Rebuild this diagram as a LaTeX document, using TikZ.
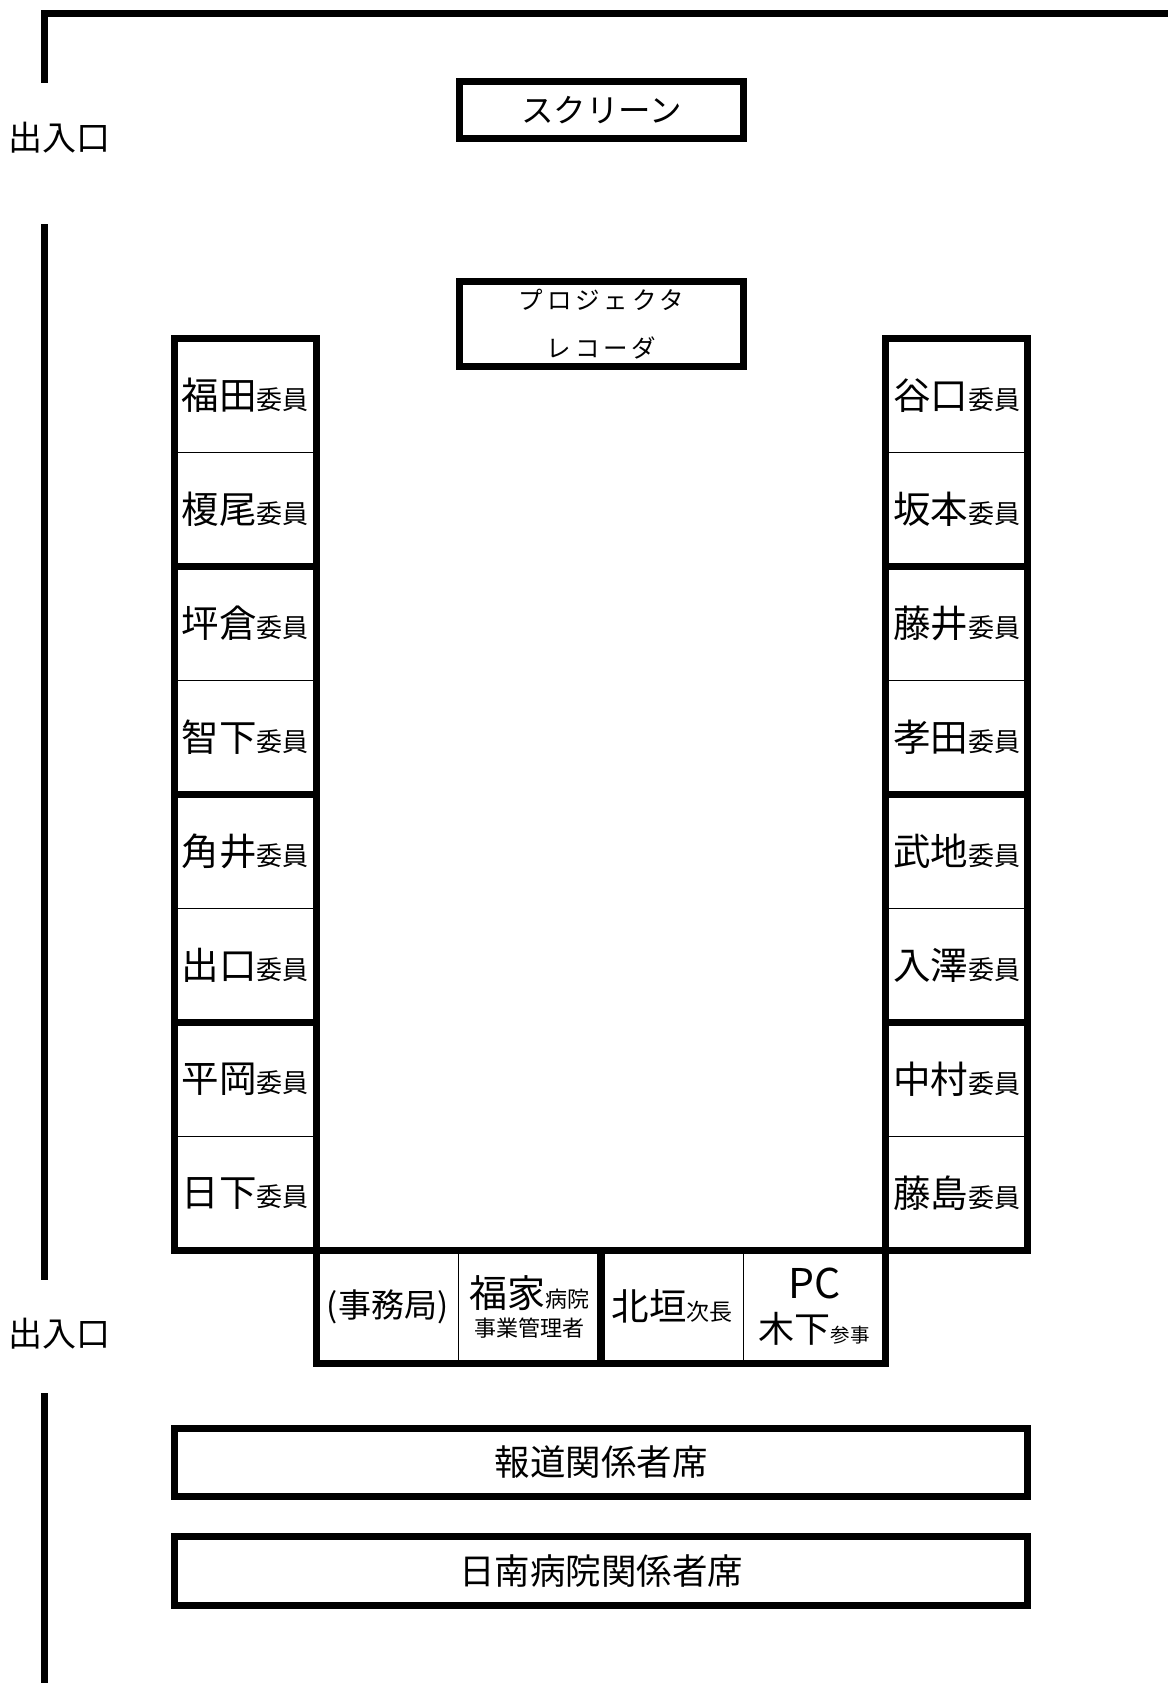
\documentclass[tikz,border=0pt]{standalone}
\usepackage{fontspec}
\setmainfont{Noto Sans CJK JP}
\newcommand\seatnm[1]{{\fontsize{37.5}{40}\selectfont #1}{\fontsize{26}{28}\selectfont 委員}}
\begin{document}
\begin{tikzpicture}[x=1pt,y=-1pt,
  wall/.style={line width=7pt},
  boxthick/.style={draw,line width=7pt,inner sep=0pt,outer sep=0pt},
  seat/.style={draw,line width=1.2pt,minimum width=141.5pt,minimum height=114pt,inner sep=0pt,outer sep=0pt},
  bseat/.style={seat,minimum width=142.25pt,minimum height=113.5pt},
  entr/.style={font=\fontsize{34}{36}\selectfont}]
\useasboundingbox (0,0) rectangle (1168,1683);
\fill[white] (0,0) rectangle (1168,1683);
% walls
\draw[wall] (44.5,83) -- (44.5,13.5) -- (1168,13.5);
\draw[wall] (44.5,224) -- (44.5,1280);
\draw[wall] (44.5,1393) -- (44.5,1683);
\node[entr] (ent1) at (59.5,137.5) {出入口};
\node[entr] (ent2) at (59.5,1334) {出入口};
% screen and projector
\node[boxthick,minimum width=284pt,minimum height=57pt,font=\fontsize{32.5}{34}\selectfont] (screen) at (601.5,110) {スクリーン};
\node[boxthick,minimum width=284pt,minimum height=85pt,align=center,font=\fontsize{24.5}{48}\selectfont\addfontfeature{LetterSpace=16}] (proj) at (601.5,324) {プロジェクタ\\レコーダ};
% left column
\foreach \n [count=\i] in {福田,榎尾,坪倉,智下,角井,出口,平岡,日下}
  \node[seat] (L\i) at (245.25,{338.5+114*\i-57}) {\seatnm{\n}};
% right column
\foreach \n [count=\i] in {谷口,坂本,藤井,孝田,武地,入澤,中村,藤島}
  \node[seat] (R\i) at (956.5,{338.5+114*\i-57}) {\seatnm{\n}};
\foreach \a/\b in {1/2,3/4,5/6,7/8} {
  \draw[wall] (L\a.north west) rectangle (L\b.south east);
  \draw[wall] (R\a.north west) rectangle (R\b.south east);
}
% bottom row
\node[bseat,font=\fontsize{33}{34}\selectfont] (B1) at (387.6,1306.75) {(事務局)};
\node[bseat,align=center,font=\fontsize{22}{29}\selectfont] (B2) at (529.9,1306.75) {{\fontsize{38}{29}\selectfont 福家}病院\\事業管理者};
\node[bseat] (B3) at (672.1,1306.75) {{\fontsize{37.5}{40}\selectfont 北垣}{\fontsize{23}{24}\selectfont 次長}};
\node[bseat,align=center,font=\fontsize{19.5}{44}\selectfont] (B4) at (814.4,1306.75) {{\fontsize{41}{44}\selectfont PC}\\{\fontsize{36}{44}\selectfont 木下}参事};
\draw[wall] (B1.north west) rectangle (B2.south east);
\draw[wall] (B3.north west) rectangle (B4.south east);
% audience
\node[boxthick,minimum width=853pt,minimum height=68pt,font=\fontsize{35.5}{36}\selectfont] (press) at (601,1462.5) {報道関係者席};
\node[boxthick,minimum width=853pt,minimum height=68.5pt,font=\fontsize{35.5}{36}\selectfont] (hosp) at (601,1570.75) {日南病院関係者席};
\end{tikzpicture}
\end{document}
